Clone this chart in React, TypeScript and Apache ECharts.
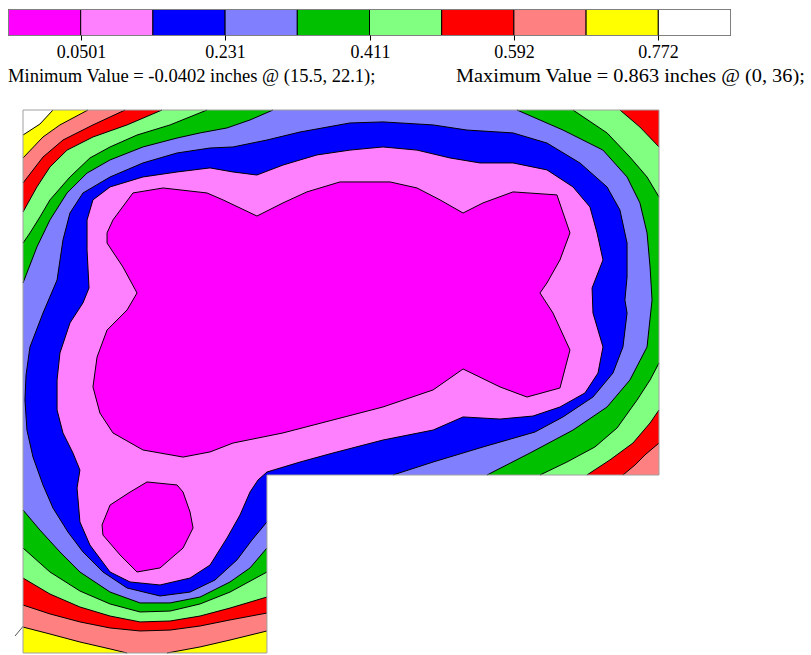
import React, { useEffect, useRef } from "react";
import * as echarts from "echarts";

// ---- legend / annotation data ----
const bandColors = ["#ff00ff", "#ff80ff", "#0000ff", "#8080ff", "#00c000", "#80ff80", "#ff0000", "#ff8080", "#ffff00", "#ffffff"];
const legendTickLabels = ["0.0501", "0.231", "0.411", "0.592", "0.772"];
const minValue = "-0.0402";
const minAt = [15.5, 22.1];
const maxValue = "0.863";
const maxAt = [0, 36];

// ---- plate geometry (inches) ----
const TL = [0, 36];
const TR = [42, 36];
const NR = [42, 11.8];
const NI = [16.11, 11.8];
const NB = [16.11, 0];
const BL = [0, 0];
const plateOutline = [TL, TR, NR, NI, NB, BL];

// ---- contour lines (inches) ----
const cYellowWhiteTL = [[0, 34.34], [1.12, 35.07], [1.98, 36]];
const cSalmonYellowTL = [[0, 32.82], [1.32, 34.21], [2.44, 35.01], [4.29, 36]];
const cSalmonYellowB1 = [[16.11, 1.46], [13.67, 0.86], [11.69, 0.4], [9.51, 0]];
const cSalmonYellowB2 = [[6.87, 0], [5.75, 0.27], [3.76, 0.73], [1.78, 1.26], [0, 1.72]];
const cRedSalmonTL = [[0, 31.16], [1.32, 32.88], [2.64, 34.01], [4.62, 35.01], [6.74, 36]];
const cRedSalmonBR = [[42, 13.92], [41.07, 13.13], [40.41, 12.46], [39.62, 11.8]];
const cRedSalmonB = [[16.11, 2.65], [13.67, 2.19], [11.69, 1.79], [9.71, 1.52], [7.73, 1.46], [5.75, 1.66], [3.76, 2.06], [1.78, 2.59], [0, 3.18]];
const cLgRedTL = [[0, 29.24], [0.92, 30.9], [1.78, 32.22], [2.91, 33.34], [4.62, 34.21], [6.87, 35.01], [9.18, 36]];
const cLgRedTR = [[39.42, 36], [40.74, 34.87], [42, 33.55]];
const cLgRedBR = [[42, 16.11], [41.41, 15.25], [40.28, 13.92], [38.76, 12.8], [37.24, 11.8]];
const cLgRedB = [[16.11, 3.71], [13.67, 2.98], [11.69, 2.45], [9.71, 2.12], [7.73, 2.06], [5.75, 2.45], [3.76, 3.05], [1.78, 3.91], [0, 4.97]];
const cGreenLgTL = [[0, 27.18], [0.46, 27.85], [1.12, 28.91], [1.78, 30.04], [3.1, 31.56], [4.42, 32.82], [5.75, 33.55], [7.53, 34.34], [9.71, 35.01], [12.15, 36]];
const cGreenLgTR = [[36.32, 36], [38.57, 34.48], [40.08, 32.88], [41.21, 31.56], [42, 30.23]];
const cGreenLgBR = [[42, 19.23], [41.41, 18.1], [40.55, 16.77], [39.23, 14.92], [37.77, 13.66], [35.92, 12.66], [34.14, 11.8]];
const cGreenLgB = [[16.11, 5.37], [13.67, 4.04], [11.69, 3.25], [9.71, 2.78], [7.73, 2.72], [5.75, 3.25], [3.76, 4.11], [1.78, 5.37], [0, 6.96]];
const cLbGreenTop = [[0, 24.53], [0.92, 26.92], [1.78, 28.71], [2.91, 30.5], [4.23, 31.82], [5.75, 32.69], [7.92, 33.55], [10.17, 34.14], [11.69, 34.48], [13.47, 34.81], [14.99, 35.34], [16.51, 36]];
const cLbGreenRight = [[32.62, 36], [35.66, 34.67], [38.3, 33.34], [39.89, 31.56], [40.74, 29.84], [41.21, 27.85], [41.41, 25.59], [41.54, 23.4], [41.21, 20.29], [40.08, 18.1], [38.57, 16.31], [36.32, 14.78], [33.48, 13.26], [30.64, 11.8]];
const cLbGreenB = [[16.11, 6.96], [14.99, 5.64], [13.67, 4.71], [11.69, 3.71], [9.71, 3.32], [7.73, 3.32], [5.75, 4.04], [3.76, 5.37], [2.44, 6.7], [1.12, 8.15], [0, 9.48]];
const cBlueLb = [[16.11, 8.69], [15.12, 7.49], [14.13, 6.17], [12.68, 4.84], [11.03, 4.04], [9.05, 3.78], [6.87, 4.31], [5.28, 5.37], [3.96, 6.7], [2.97, 8.02], [1.98, 9.61], [1.32, 11.14], [0.66, 12.99], [0.26, 14.78], [0.13, 16.77], [0.2, 18.43], [0.46, 20.29], [1.32, 22.54], [2.25, 24.73], [2.64, 27.38], [3.1, 29.17], [3.96, 30.5], [5.75, 31.56], [7.92, 32.49], [10.17, 33.15], [12.35, 33.48], [13.87, 33.55], [16.11, 34.01], [18.29, 34.54], [21.59, 35.14], [23.77, 35.21], [27.08, 35.01], [29.32, 34.67], [32.36, 34.48], [34.6, 33.81], [36.78, 32.49], [38.57, 30.9], [39.42, 29.37], [39.89, 27.18], [39.89, 24.93], [39.75, 23.4], [39.89, 22.54], [39.62, 20.29], [38.96, 18.56], [37.64, 16.97], [35.66, 15.65], [33.81, 14.65], [30.38, 13.66], [27.08, 12.66], [24.43, 11.8]];
const cPinkBlue = [[4.62, 30.04], [5.75, 30.9], [7.92, 31.56], [10.17, 31.89], [12.35, 32.16], [13.87, 31.89], [15.45, 31.69], [17.17, 32.35], [19.41, 33.02], [21.59, 33.34], [23.77, 33.55], [26.02, 33.34], [28.2, 32.82], [30.18, 32.49], [32.36, 32.49], [34.6, 32.03], [36.32, 30.9], [37.44, 29.57], [37.91, 27.85], [38.3, 26.06], [37.58, 24.2], [37.64, 22.54], [38.3, 20.29], [37.97, 18.56], [37.11, 17.24], [35.46, 16.31], [33.68, 15.71], [31.5, 15.51], [29.06, 15.65], [27.08, 14.78], [23.77, 14.12], [20.47, 13.26], [18.29, 12.66], [16.11, 12.0], [15.52, 11.47], [14.99, 10.67], [14.33, 9.15], [13.47, 7.62], [12.35, 5.83], [11.03, 4.97], [9.05, 4.51], [7.07, 4.71], [5.75, 5.37], [4.42, 7.16], [3.76, 8.69], [3.57, 10.94], [3.76, 12.13], [3.3, 13.26], [2.64, 14.59], [2.25, 16.11], [2.25, 18.1], [2.44, 19.89], [3.1, 21.88], [3.96, 23.21], [4.36, 24.2], [4.23, 26.72], [4.23, 28.71]];
const cMagentaPink = [[7.26, 30.5], [9.25, 30.83], [12.15, 30.5], [13.21, 30.04], [15.45, 28.97], [17.17, 29.84], [18.75, 30.57], [20.93, 31.23], [24.24, 31.23], [26.02, 30.83], [27.54, 30.04], [29.06, 29.17], [30.38, 29.84], [32.36, 30.57], [35.26, 30.37], [36.12, 27.85], [35.46, 26.06], [34.6, 24.53], [34.14, 23.87], [35.0, 22.54], [36.12, 20.09], [35.46, 17.57], [33.28, 16.97], [31.5, 17.64], [29.06, 18.83], [27.08, 17.44], [23.77, 16.31], [20.47, 15.45], [17.17, 14.59], [13.87, 13.92], [12.35, 13.33], [10.57, 12.99], [7.92, 13.46], [5.94, 14.59], [5.08, 15.91], [4.62, 17.64], [4.89, 19.62], [5.55, 21.41], [6.87, 22.74], [7.53, 23.87], [6.6, 25.59], [5.55, 27.18], [5.55, 27.85], [5.94, 28.71]];
const cMagentaPinkSmall = [[5.75, 9.81], [7.07, 10.67], [8.19, 11.34], [10.17, 11.14], [10.57, 10.67], [11.03, 9.35], [11.23, 8.29], [10.57, 6.96], [9.05, 5.64], [7.53, 5.37], [6.41, 6.5], [5.28, 7.82], [5.22, 8.49]];

// ---- filled regions {value < level}, built from the contours and the plate edges ----
const regions = [
  { fill: bandColors[9], points: plateOutline },
  { fill: bandColors[8], points: [...cYellowWhiteTL, TR, NR, NI, NB, BL] },
  { fill: bandColors[7], points: [...cSalmonYellowTL, TR, NR, NI, ...cSalmonYellowB1, ...cSalmonYellowB2] },
  { fill: bandColors[6], points: [...cRedSalmonTL, TR, ...cRedSalmonBR, NI, ...cRedSalmonB] },
  { fill: bandColors[5], points: [...cLgRedTL, ...cLgRedTR, ...cLgRedBR, NI, ...cLgRedB] },
  { fill: bandColors[4], points: [...cGreenLgTL, ...cGreenLgTR, ...cGreenLgBR, NI, ...cGreenLgB] },
  { fill: bandColors[3], points: [...cLbGreenTop, ...cLbGreenRight, NI, ...cLbGreenB] },
  { fill: bandColors[2], points: [...cBlueLb, NI] },
  { fill: bandColors[1], points: cPinkBlue },
  { fill: bandColors[0], points: cMagentaPink },
  { fill: bandColors[0], points: cMagentaPinkSmall },
];

const openLines = [
  cYellowWhiteTL, cSalmonYellowTL, cSalmonYellowB1, cSalmonYellowB2, cRedSalmonTL, cRedSalmonBR, cRedSalmonB,
  cLgRedTL, cLgRedTR, cLgRedBR, cLgRedB, cGreenLgTL, cGreenLgTR, cGreenLgBR, cGreenLgB,
  cLbGreenTop, cLbGreenRight, cLbGreenB, cBlueLb,
];
const closedLines = [cPinkBlue, cMagentaPink, cMagentaPinkSmall];

type Shape = { points: number[][]; fill?: string; stroke?: string; closed: boolean };
const shapes: Shape[] = [
  ...regions.map((r) => ({ points: r.points, fill: r.fill, closed: true })),
  ...openLines.map((l) => ({ points: l, stroke: "#000000", closed: false })),
  ...closedLines.map((l) => ({ points: l, stroke: "#000000", closed: true })),
  { points: plateOutline, stroke: "#a0a0a0", closed: true },
];

export default function App() {
  const ref = useRef<HTMLDivElement>(null);
  useEffect(() => {
    if (!ref.current) return;
    const chart = echarts.init(ref.current, null, { renderer: "svg" });
    const legendLeft = 8.5;
    const legendTop = 9.5;
    const boxW = 72.2;
    const boxH = 26;
    const font = '18px "Liberation Serif", "Times New Roman", serif';
    const graphic: any[] = [];
    bandColors.forEach((c, i) => {
      graphic.push({
        type: "rect",
        shape: { x: legendLeft + i * boxW, y: legendTop, width: boxW, height: boxH },
        style: { fill: c, stroke: "#000", lineWidth: 1 },
      });
    });
    graphic.push({
      type: "rect",
      shape: { x: legendLeft, y: legendTop, width: boxW * 10, height: boxH },
      style: { fill: "none", stroke: "#808080", lineWidth: 1 },
    });
    legendTickLabels.forEach((t, k) => {
      const x = Math.round(legendLeft + (2 * k + 1) * boxW) + 0.5;
      graphic.push({
        type: "line",
        shape: { x1: x, y1: legendTop + boxH, x2: x, y2: legendTop + boxH + 5 },
        style: { stroke: "#000", lineWidth: 1 },
      });
      graphic.push({
        type: "text",
        x: x,
        y: 51,
        scaleY: 1.1,
        style: { text: t, font, fill: "#000", textAlign: "center", textVerticalAlign: "middle", align: "center", verticalAlign: "middle" },
      });
    });
    graphic.push({
      type: "text",
      x: 8,
      y: 75,
      scaleX: 1.03,
      scaleY: 1.1,
      style: {
        text: `Minimum Value = ${minValue} inches @ (${minAt[0]}, ${minAt[1]});`,
        font, fill: "#000", textAlign: "left", textVerticalAlign: "middle", align: "left", verticalAlign: "middle",
      },
    });
    graphic.push({
      type: "text",
      x: 456,
      y: 75,
      scaleX: 1.13,
      scaleY: 1.1,
      style: {
        text: `Maximum Value = ${maxValue} inches @ (${maxAt[0]}, ${maxAt[1]});`,
        font, fill: "#000", textAlign: "left", textVerticalAlign: "middle", align: "left", verticalAlign: "middle",
      },
    });
    graphic.push({
      type: "line",
      shape: { x1: 15, y1: 636, x2: 25, y2: 624 },
      style: { stroke: "#555", lineWidth: 1 },
    });

    chart.setOption({
      animation: false,
      backgroundColor: "#ffffff",
      grid: { left: 23, top: 110, width: 636, height: 543 },
      xAxis: { type: "value", min: 0, max: 42, show: false },
      yAxis: { type: "value", min: 0, max: 36, show: false },
      series: [
        {
          type: "custom",
          coordinateSystem: "cartesian2d",
          clip: false,
          silent: true,
          data: shapes.map((_, i) => [i, 0]),
          renderItem: (params: any, api: any) => {
            const s = shapes[params.dataIndex];
            const pts = s.points.map((p) => api.coord(p));
            return {
              type: s.closed ? "polygon" : "polyline",
              z2: params.dataIndex,
              shape: { points: pts },
              style: {
                fill: s.fill ? s.fill : "none",
                stroke: s.stroke ? s.stroke : "none",
                lineWidth: 1,
              },
            };
          },
        },
      ],
      graphic,
    });
    return () => chart.dispose();
  }, []);
  return <div ref={ref} style={{ position: "fixed", left: 0, top: 0, width: 811, height: 655 }} />;
}
